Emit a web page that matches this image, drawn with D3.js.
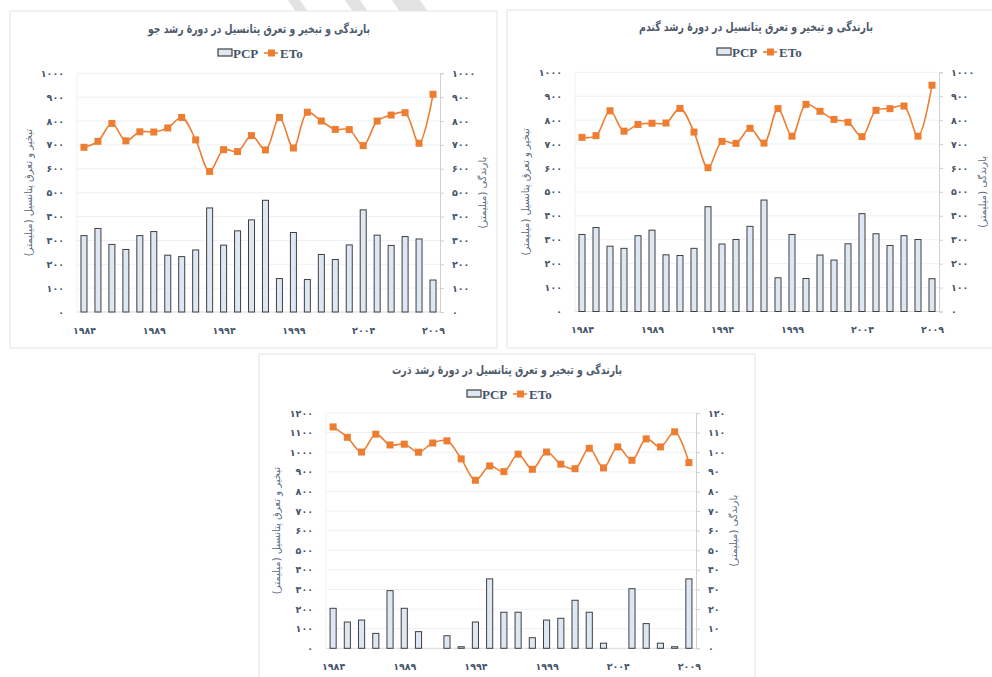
<!DOCTYPE html>
<html>
<head>
<meta charset="utf-8">
<script src="https://cdn.jsdelivr.net/npm/d3@7"></script>
<style>
  body { margin: 0; background: #fff; }
  svg { display: block; }
  .fa { font-family: "DejaVu Sans", sans-serif; }
</style>
</head>
<body>
<svg id="chart" width="992" height="677"></svg>
<script>
// categories
const years = [1984, 1985, 1986, 1987, 1988, 1989, 1990, 1991, 1992, 1993, 1994, 1995, 1996,
               1997, 1998, 1999, 2000, 2001, 2002, 2003, 2004, 2005, 2006, 2007, 2008, 2009];
const yearLabels = [1984, 1989, 1994, 1999, 2004, 2009];

// barley (jo)
const barleyPcp = [320, 350, 283, 262, 320, 337, 238, 232, 260, 436, 280, 340, 386,
                   468, 140, 333, 136, 241, 220, 281, 428, 322, 279, 316, 306, 134];
const barleyEto = [690, 715, 790, 717, 755, 754, 771, 815, 721, 589, 680, 672, 739,
                   679, 815, 687, 837, 800, 765, 764, 697, 800, 825, 835, 707, 912];

// wheat (gandom)
const wheatPcp = [322, 351, 273, 264, 317, 340, 237, 234, 264, 438, 282, 301, 356,
                  466, 141, 322, 138, 236, 215, 283, 409, 325, 276, 317, 301, 137];
const wheatEto = [728, 735, 839, 754, 782, 787, 788, 849, 750, 601, 711, 703, 766,
                  704, 848, 733, 866, 837, 803, 791, 731, 841, 848, 859, 733, 946];

// maize (zorrat) - precipitation read on the right axis (0-120)
const maizePcp = [20.4, 13.4, 14.4, 7.6, 29.4, 20.4, 8.5, 0, 6.4, 0.8, 13.4, 35.4, 18.4,
                  18.4, 5.4, 14.4, 15.3, 24.5, 18.4, 2.6, 0, 30.4, 12.6, 2.6, 0.8, 35.4];
const maizeEto = [1129, 1076, 1001, 1092, 1037, 1041, 1000, 1047, 1058, 966, 857, 930, 901,
                  990, 913, 1001, 939, 916, 1020, 920, 1027, 959, 1068, 1027, 1104, 947];

// axis ticks
const ticks1000 = [0, 100, 200, 300, 400, 500, 600, 700, 800, 900, 1000];
const ticks1200 = [0, 100, 200, 300, 400, 500, 600, 700, 800, 900, 1000, 1100, 1200];
const ticks120 = [0, 10, 20, 30, 40, 50, 60, 70, 80, 90, 100, 110, 120];

const titleBase = "بارندگی و تبخیر و تعرق پتانسیل در دورهٔ رشد ";
const leftTitle = "تبخیر و تعرق پتانسیل (میلیمتر)";
const rightTitle = "بارندگی (میلیمتر)";

const orange = "#ed7d31";
const barFill = "#dde8f4";
const barStroke = "#3f3f3f";
const textCol = "#44546a";

const faDigits = "۰۱۲۳۴۵۶۷۸۹";
const toFa = v => String(v).replace(/[0-9]/g, c => faDigits[+c]);

const svg = d3.select("#chart");

// faint watermark stripes at the top edge
const wm = svg.append("g").attr("fill", "#e3e3e3");
[[288, 300], [345, 360], [392, 420]].forEach(([a, b]) => {
  wm.append("polygon").attr("points", `${a},0 ${b},0 ${b + 8},12 ${a + 8},12`);
});

function drawPanel(cfg) {
  const g = svg.append("g");
  g.append("rect")
    .attr("x", cfg.box[0]).attr("y", cfg.box[1])
    .attr("width", cfg.box[2]).attr("height", cfg.box[3])
    .attr("fill", "#fff").attr("stroke", "#e4e4e4");

  const x = d3.scaleBand().domain(years).range([cfg.l, cfg.r]).paddingInner(0.57).paddingOuter(0.285);
  const xp = d3.scalePoint().domain(years).range([cfg.l, cfg.r]).padding(0.5);
  const yL = d3.scaleLinear().domain(cfg.leftDomain).range([cfg.b, cfg.t]);
  const yR = d3.scaleLinear().domain(cfg.rightDomain).range([cfg.b, cfg.t]);

  // grid
  g.append("g").selectAll("line").data(cfg.leftTicks).join("line")
    .attr("x1", cfg.l).attr("x2", cfg.r)
    .attr("y1", d => yL(d)).attr("y2", d => yL(d))
    .attr("stroke", d => d === 0 ? "#d9d9d9" : "#eef0f3").attr("stroke-width", 1);
  g.append("line").attr("x1", cfg.l).attr("x2", cfg.l).attr("y1", cfg.t).attr("y2", cfg.b)
    .attr("stroke", "#eef0f3");

  // left axis labels
  const la = g.append("g").attr("transform", `translate(${cfg.l},0)`)
    .call(d3.axisLeft(yL).tickValues(cfg.leftTicks).tickSize(0).tickPadding(13).tickFormat(toFa));
  la.select(".domain").remove();
  // right axis
  const ra = g.append("g").attr("transform", `translate(${cfg.r},0)`)
    .call(d3.axisRight(yR).tickValues(cfg.rightTicks).tickSize(4).tickPadding(8).tickFormat(toFa));
  ra.select(".domain").attr("stroke", "#d0d0d0");
  ra.selectAll(".tick line").attr("stroke", "#d0d0d0");
  // bottom axis
  const ba = g.append("g").attr("transform", `translate(0,${cfg.b})`)
    .call(d3.axisBottom(xp).tickValues(yearLabels).tickSize(0).tickPadding(15).tickFormat(toFa));
  ba.select(".domain").remove();

  g.selectAll(".tick text")
    .attr("class", "fa")
    .attr("font-size", 9.5).attr("font-weight", "bold").attr("fill", textCol);

  // bars
  g.append("g").selectAll("rect").data(years.map((yr, i) => ({ yr, v: cfg.pcp[i] })).filter(d => d.v > 0))
    .join("rect")
    .attr("x", d => x(d.yr)).attr("width", x.bandwidth())
    .attr("y", d => yR(d.v)).attr("height", d => cfg.b - yR(d.v))
    .attr("fill", barFill).attr("stroke", barStroke).attr("stroke-width", 1);

  // line
  const line = d3.line().x((d, i) => xp(years[i])).y(d => yL(d)).curve(d3.curveCatmullRom.alpha(0.5));
  g.append("path").datum(cfg.eto).attr("d", line)
    .attr("fill", "none").attr("stroke", orange).attr("stroke-width", 1.6);
  g.append("g").selectAll("rect").data(cfg.eto).join("rect")
    .attr("x", (d, i) => xp(years[i]) - 3.5).attr("y", d => yL(d) - 3.5)
    .attr("width", 7).attr("height", 7).attr("fill", orange);

  // title
  g.append("text").attr("class", "fa")
    .attr("x", cfg.titleX).attr("y", cfg.titleY)
    .attr("text-anchor", "middle").attr("direction", "rtl")
    .attr("font-size", 12).attr("font-weight", "bold").attr("fill", "#4d5a6b")
    .attr("textLength", cfg.titleLen).attr("lengthAdjust", "spacingAndGlyphs")
    .text(titleBase + cfg.crop);

  // legend
  const lg = g.append("g").attr("transform", `translate(${cfg.legX - 40},${cfg.legY})`);
  lg.append("rect").attr("x", 0).attr("y", -4).attr("width", 14).attr("height", 7)
    .attr("fill", barFill).attr("stroke", barStroke).attr("stroke-width", 1.2);
  lg.append("text").attr("x", 15).attr("y", 4.5)
    .attr("font-family", "Liberation Serif").attr("font-weight", "bold").attr("font-size", 13)
    .attr("fill", textCol).text("PCP");
  lg.append("line").attr("x1", 46).attr("x2", 60).attr("y1", 0).attr("y2", 0)
    .attr("stroke", orange).attr("stroke-width", 1.6);
  lg.append("rect").attr("x", 50).attr("y", -3.5).attr("width", 7).attr("height", 7).attr("fill", orange);
  lg.append("text").attr("x", 62).attr("y", 4.5)
    .attr("font-family", "Liberation Serif").attr("font-weight", "bold").attr("font-size", 13)
    .attr("fill", textCol).text("ETo");

  // axis titles
  const midY = (cfg.t + cfg.b) / 2;
  g.append("text").attr("class", "fa")
    .attr("transform", `translate(${cfg.leftTitleX},${midY}) rotate(-90)`)
    .attr("text-anchor", "middle").attr("direction", "rtl")
    .attr("font-size", 10).attr("fill", "#5a6a80").text(leftTitle);
  g.append("text").attr("class", "fa")
    .attr("transform", `translate(${cfg.rightTitleX},${midY}) rotate(-90)`)
    .attr("text-anchor", "middle").attr("direction", "rtl")
    .attr("font-size", 10).attr("fill", "#5a6a80").text(rightTitle);
}

drawPanel({
  crop: "جو", pcp: barleyPcp, eto: barleyEto,
  box: [10, 11, 487, 337], l: 77, r: 440, t: 73.3, b: 312,
  leftDomain: [0, 1000], rightDomain: [0, 1000], leftTicks: ticks1000, rightTicks: ticks1000,
  titleX: 259, titleY: 33, titleLen: 222, legX: 258, legY: 53, leftTitleX: 32, rightTitleX: 486
});
drawPanel({
  crop: "گندم", pcp: wheatPcp, eto: wheatEto,
  box: [507, 10, 492, 338], l: 575, r: 939, t: 72.3, b: 311.5,
  leftDomain: [0, 1000], rightDomain: [0, 1000], leftTicks: ticks1000, rightTicks: ticks1000,
  titleX: 756, titleY: 31, titleLen: 234, legX: 757, legY: 52, leftTitleX: 529, rightTitleX: 986
});
drawPanel({
  crop: "ذرت", pcp: maizePcp, eto: maizeEto,
  box: [259, 354, 496, 330], l: 326, r: 696, t: 413, b: 648.3,
  leftDomain: [0, 1200], rightDomain: [0, 120], leftTicks: ticks1200, rightTicks: ticks120,
  titleX: 507, titleY: 374, titleLen: 230, legX: 507, legY: 394, leftTitleX: 280, rightTitleX: 737
});
</script>
</body>
</html>
